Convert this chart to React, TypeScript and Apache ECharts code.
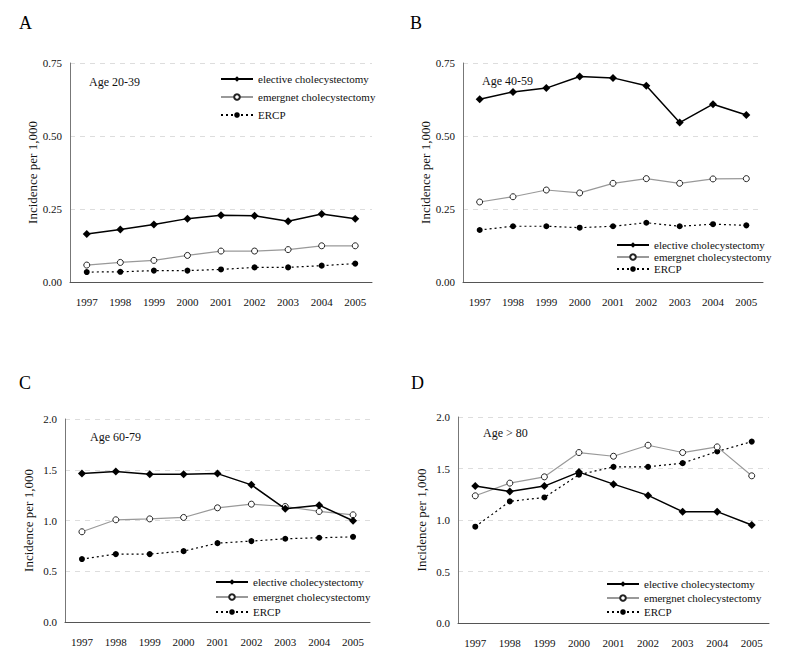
import React, { useEffect, useRef } from "react";
import * as echarts from "echarts";

const years = ["1997", "1998", "1999", "2000", "2001", "2002", "2003", "2004", "2005"];
const seriesNames = ["elective cholecystectomy", "emergnet cholecystectomy", "ERCP"];
const panelLetters = ["A", "B", "C", "D"];
const ageLabels = ["Age 20-39", "Age 40-59", "Age 60-79", "Age > 80"];

const electiveA = [0.164, 0.18, 0.197, 0.217, 0.229, 0.227, 0.208, 0.233, 0.217];
const emergentA = [0.058, 0.067, 0.074, 0.091, 0.106, 0.106, 0.111, 0.124, 0.124];
const ercpA = [0.034, 0.035, 0.039, 0.039, 0.043, 0.05, 0.05, 0.056, 0.063];

const electiveB = [0.626, 0.651, 0.664, 0.704, 0.699, 0.672, 0.546, 0.609, 0.572];
const emergentB = [0.274, 0.292, 0.315, 0.305, 0.338, 0.354, 0.338, 0.353, 0.354];
const ercpB = [0.178, 0.191, 0.191, 0.186, 0.191, 0.203, 0.191, 0.198, 0.194];

const electiveC = [1.462, 1.482, 1.456, 1.456, 1.462, 1.351, 1.115, 1.151, 0.997];
const emergentC = [0.889, 1.007, 1.016, 1.03, 1.125, 1.161, 1.138, 1.089, 1.056];
const ercpC = [0.62, 0.669, 0.669, 0.698, 0.777, 0.797, 0.82, 0.83, 0.839];

const electiveD = [1.329, 1.277, 1.329, 1.465, 1.348, 1.239, 1.081, 1.081, 0.952];
const emergentD = [1.235, 1.358, 1.419, 1.655, 1.619, 1.726, 1.655, 1.71, 1.429];
const ercpD = [0.935, 1.181, 1.219, 1.44, 1.516, 1.516, 1.552, 1.665, 1.761];

const yTicksAB = { min: 0, max: 0.75, interval: 0.25, decimals: 2 };
const yTicksCD = { min: 0, max: 2, interval: 0.5, decimals: 1 };

const FONT = "'Liberation Serif', 'Times New Roman', serif";

export default function App() {
  const ref = useRef<HTMLDivElement>(null);

  useEffect(() => {
    document.body.style.margin = "0";
    if (!ref.current) return;
    const chart = echarts.init(ref.current, null, { renderer: "svg" });

    const grids = [
      { left: 70, top: 63, width: 302, height: 219 },
      { left: 463, top: 63, width: 300, height: 219 },
      { left: 65, top: 419, width: 305, height: 203 },
      { left: 458, top: 417, width: 311, height: 206 },
    ];
    const data = [
      [electiveA, emergentA, ercpA],
      [electiveB, emergentB, ercpB],
      [electiveC, emergentC, ercpC],
      [electiveD, emergentD, ercpD],
    ];
    const yt = [yTicksAB, yTicksAB, yTicksCD, yTicksCD];

    const series: any[] = [];
    data.forEach((set, gi) => {
      set.forEach((vals, si) => {
        const base: any = {
          type: "line",
          name: seriesNames[si],
          xAxisIndex: gi,
          yAxisIndex: gi,
          data: vals,
          z: 5 - si,
        };
        if (si === 0) {
          Object.assign(base, {
            symbol: "diamond",
            symbolSize: 8,
            itemStyle: { color: "#000" },
            lineStyle: { color: "#000", width: 1.5 },
          });
        } else if (si === 1) {
          Object.assign(base, {
            symbol: "circle",
            symbolSize: 6,
            itemStyle: { color: "#fff", borderColor: "#222", borderWidth: 1 },
            lineStyle: { color: "#999", width: 1.2 },
          });
        } else {
          Object.assign(base, {
            symbol: "circle",
            symbolSize: 6,
            itemStyle: { color: "#000" },
            lineStyle: { color: "#000", width: 1.2, type: [2, 3] },
          });
        }
        series.push(base);
      });
    });

    const legends = [
      { left: 220, top: 73, itemGap: 6 },
      { left: 616, top: 239, itemGap: 0 },
      { left: 215, top: 576, itemGap: 3 },
      { left: 606, top: 578, itemGap: 2 },
    ].map((l) => ({
      ...l,
      orient: "vertical",
      padding: 0,
      data: seriesNames,
      itemWidth: 32,
      itemHeight: 7,
      selectedMode: false,
      textStyle: { fontFamily: FONT, fontSize: 11, color: "#111", lineHeight: 12 },
    }));

    const letterPos = [
      [19, 14],
      [410, 14],
      [19, 374],
      [411, 374],
    ];
    const agePos = [
      [89, 82],
      [482, 81],
      [90, 437],
      [483, 433],
    ];
    const graphic: any[] = [];
    panelLetters.forEach((t, i) => {
      graphic.push({
        type: "text",
        left: letterPos[i][0],
        top: letterPos[i][1],
        style: { text: t, font: `18px ${FONT}`, fill: "#000" },
      });
    });
    ageLabels.forEach((t, i) => {
      graphic.push({
        type: "text",
        x: agePos[i][0],
        y: agePos[i][1],
        style: {
          text: t,
          font: `12px ${FONT}`,
          fill: "#111",
          verticalAlign: "middle",
        },
      });
    });

    chart.setOption({
      animation: false,
      backgroundColor: "#fff",
      textStyle: { fontFamily: FONT },
      grid: grids,
      legend: legends,
      graphic,
      xAxis: grids.map((_, i) => ({
        type: "category",
        gridIndex: i,
        data: years,
        boundaryGap: true,
        axisLine: { lineStyle: { color: "#555", width: 1 } },
        axisTick: { inside: true, length: 4, lineStyle: { color: "#555" } },
        axisLabel: {
          fontFamily: FONT,
          fontSize: 11,
          color: "#111",
          margin: 14,
          interval: 0,
        },
        splitLine: { show: false },
      })),
      yAxis: grids.map((_, i) => ({
        type: "value",
        gridIndex: i,
        min: yt[i].min,
        max: yt[i].max,
        interval: yt[i].interval,
        name: "Incidence per 1,000",
        nameLocation: "middle",
        nameGap: 30,
        nameTextStyle: {
          fontFamily: FONT,
          fontSize: 13,
          color: "#111",
        },
        axisLine: { show: true, lineStyle: { color: "#777", width: 1 } },
        axisTick: { show: false },
        axisLabel: {
          fontFamily: FONT,
          fontSize: 11,
          color: "#111",
          margin: 8,
          formatter: (v: number) => v.toFixed(yt[i].decimals),
        },
        splitLine: { show: true, lineStyle: { color: "#ddd", type: [5, 5] } },
      })),
      series,
    });

    return () => chart.dispose();
  }, []);

  return <div ref={ref} style={{ width: 785, height: 665 }} />;
}
